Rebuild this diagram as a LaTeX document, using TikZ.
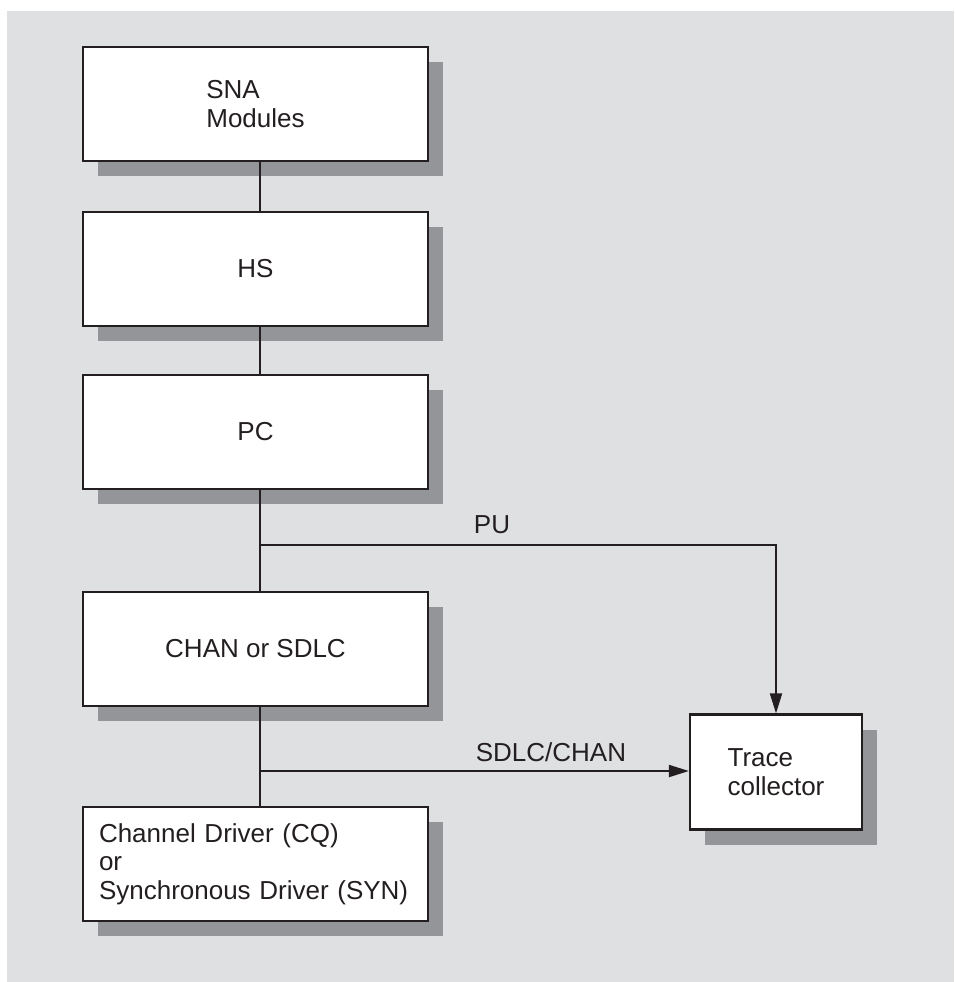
\documentclass[tikz,border=0pt]{standalone}
\usepackage{fontspec}
\setmainfont{Liberation Sans}
\usetikzlibrary{arrows.meta,shadows}

\definecolor{panel}{HTML}{DFE0E2}
\definecolor{shade}{HTML}{939598}
\definecolor{ink}{HTML}{231F20}

\tikzset{
  block/.style={draw=ink, line width=2.2pt, fill=white, text=ink,
    minimum width=345pt, minimum height=114pt, inner sep=0pt,
    drop shadow={shadow xshift=15pt, shadow yshift=-15pt, fill=shade, opacity=1}},
  wire/.style={draw=ink, line width=1.9pt},
  arrowwire/.style={wire, -{Triangle[length=20pt,width=12pt]}},
  tag/.style={text=ink, inner sep=0pt}
}

\begin{document}
\begin{tikzpicture}[x=1pt, y=-1pt,
  every node/.append style={font=\fontsize{26pt}{28.5pt}\selectfont}]
  \useasboundingbox (0,0) rectangle (954,982);
  \fill[panel] (7,11) rectangle (954,982);

  % the stack of layers
  \node[block, align=left] (sna)  at (255.5,104) {SNA\\Modules};
  \node[block]             (hs)   at (255.5,269) {HS};
  \node[block]             (pc)   at (255.5,432) {PC};
  \node[block]             (chan) at (255.5,649) {CHAN or SDLC};
  \node[block, align=left, text width=313pt, inner xsep=16pt] (drv) at (255.5,864)
    {Channel Driver (CQ)\\or\\Synchronous Driver (SYN)};
  \node[block, align=left, minimum width=172pt, minimum height=115pt] (trace) at (776,772)
    {Trace\\collector};

  % vertical spine through the stack
  \coordinate (spine) at (260,0);
  \coordinate (pu)    at (260,545);
  \coordinate (sdlc)  at (260,771);

  \draw[wire] (sna.south -| spine) -- (hs.north -| spine);
  \draw[wire] (hs.south -| spine)  -- (pc.north -| spine);
  \draw[wire] (pc.south -| spine)  -- (chan.north -| spine);
  \draw[wire] (chan.south -| spine) -- (drv.north -| spine);

  % trace taps
  \draw[arrowwire] (pu) -| (trace.north);
  \draw[arrowwire] (sdlc) -- (sdlc -| trace.west);

  \node[tag, anchor=base] (pulbl)   at (492,533) {PU};
  \node[tag, anchor=base] (sdlclbl) at (551,761) {SDLC/CHAN};
\end{tikzpicture}
\end{document}
